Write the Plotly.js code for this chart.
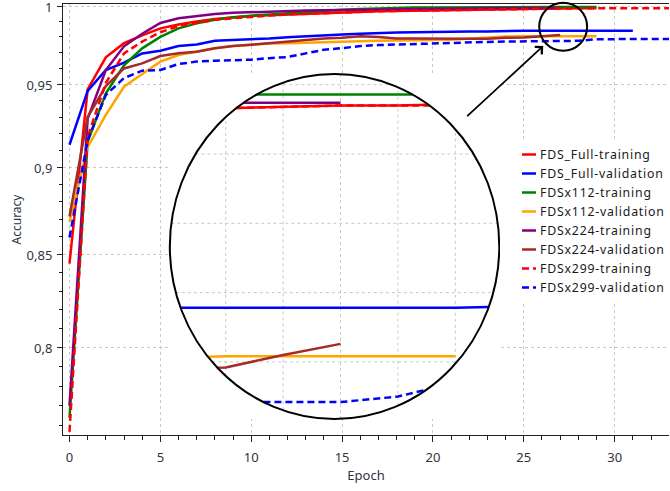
<!DOCTYPE html>
<html><head><meta charset="utf-8">
<script src="https://cdn.plot.ly/plotly-3.0.1.min.js"></script>
<style>html,body{margin:0;padding:0;background:#fff}
.legendtext{letter-spacing:0.8px}</style>
</head><body><div id="chart" style="width:670px;height:491px"></div>
<script>
// ---------- data ----------
const seriesNames = ['FDS_Full-training','FDS_Full-validation','FDSx112-training','FDSx112-validation',
                     'FDSx224-training','FDSx224-validation','FDSx299-training','FDSx299-validation'];
const fullTrain = [0.845,0.947,0.967,0.976,0.981,0.9855,0.988,0.990,0.9915,0.9925,0.9935,0.994,0.9945,0.995,0.9955,0.996,0.9963,0.9966,0.9968,0.997,0.9972,0.9975,0.9977,0.998,0.9982,0.9983,0.9984,0.9985,0.9985,0.9986];
const fullVal = [0.9133,0.946,0.959,0.9636,0.9695,0.9712,0.9742,0.9752,0.9776,0.978,0.9785,0.979,0.9798,0.9805,0.981,0.9815,0.982,0.9825,0.9828,0.983,0.983,0.9832,0.9834,0.9835,0.9839,0.9839,0.9839,0.9839,0.9839,0.9839,0.984,0.984];
const x112Train = [0.764,0.915,0.9445,0.962,0.9727,0.980,0.9855,0.9887,0.991,0.9926,0.9937,0.9945,0.9955,0.9962,0.9968,0.9975,0.998,0.9984,0.9987,0.999,0.9991,0.9992,0.9993,0.9993,0.9993,0.9993,0.9993,0.9993,0.9993,0.9993];
const x112Val = [0.8685,0.912,0.9313,0.9486,0.9565,0.9643,0.9685,0.9706,0.9727,0.9742,0.975,0.9758,0.976,0.9762,0.9765,0.977,0.9772,0.9775,0.9778,0.978,0.978,0.9782,0.9788,0.9795,0.9803,0.9804,0.9804,0.9804,0.9804,0.9804];
const x224Train = [0.770,0.929,0.959,0.974,0.982,0.989,0.992,0.9935,0.9948,0.9956,0.996,0.9965,0.9968,0.997,0.9972,0.9974,0.9976,0.9978,0.998,0.9981,0.9982,0.9983,0.9984,0.9985,0.9986,0.9987,0.9987,0.9987];
const x224Val = [0.8714,0.930,0.949,0.960,0.9632,0.9678,0.9696,0.9706,0.9727,0.9742,0.975,0.976,0.977,0.978,0.979,0.9795,0.9805,0.980,0.979,0.979,0.9788,0.9788,0.9788,0.9789,0.9795,0.9796,0.9805,0.9813];
const x299Train = [0.757,0.918,0.951,0.9695,0.977,0.983,0.987,0.989,0.991,0.992,0.993,0.9938,0.9945,0.995,0.9955,0.996,0.9963,0.9966,0.9968,0.997,0.9972,0.9975,0.9977,0.998,0.9982,0.9983,0.9984,0.9985,0.9985,0.9985,0.9985,0.9985,0.9985,0.9985];
const x299Val = [0.8596,0.916,0.9435,0.954,0.9586,0.959,0.9628,0.9643,0.9649,0.9653,0.9655,0.9665,0.9672,0.9695,0.9718,0.9728,0.9742,0.9748,0.9752,0.9756,0.976,0.9763,0.9766,0.9768,0.977,0.9771,0.9771,0.9771,0.9775,0.9785,0.9787,0.9787,0.9787,0.9787];
const yTickVals = [0.8,0.85,0.9,0.95,1];
const yTickText = ['0,8','0,85','0,9','0,95','1'];
const yMinorVals = [0.76,0.77,0.78,0.79,0.81,0.82,0.83,0.84,0.86,0.87,0.88,0.89,0.91,0.92,0.93,0.94,0.96,0.97,0.98,0.99];
const insetXGrid = [24,25,26,27,28,29,30];
const insetYGrid = [0.975,0.98,0.985,0.99,0.995,1.0];

// ---------- styles ----------
const allSeries = [fullTrain, fullVal, x112Train, x112Val, x224Train, x224Val, x299Train, x299Val];
const colors = ['#ff0000','#0000ff','#008000','#ffa500','#800080','#a52a2a','#ff0000','#0000ff'];
const dashes = ['solid','solid','solid','solid','solid','solid','7px,4px','7px,4px'];
const FONT = 'Noto Sans, Open Sans, sans-serif';

// ---------- geometry (pixels) ----------
const W = 670, H = 491, M = {l: 63, r: 0, t: 4, b: 56};
const PW = W - M.l - M.r, PH = H - M.t - M.b;
const px2paperX = x => (x - M.l) / PW;
const px2paperY = y => (H - M.b - y) / PH;
// inset (magnifier) ellipse box
const inset = {x0: 170, x1: 500, y0: 74, y1: 419};
const insetEpochAt = 341, insetEpochVal = 27, insetPxPerEpoch = 57.5;
const insetValTopPx = 84.7, insetPxPerUnit = 13860; // value 1.0 at 84.7 px
const ix0 = insetEpochVal - (insetEpochAt - inset.x0) / insetPxPerEpoch;
const ix1 = insetEpochVal + (inset.x1 - insetEpochAt) / insetPxPerEpoch;
const iy1 = 1 + (insetValTopPx - inset.y0) / insetPxPerUnit;
const iy0 = 1 - (inset.y1 - insetValTopPx) / insetPxPerUnit;

// clip a polyline (data coords of inset axes) to the inscribed ellipse
function clipToEllipse(xs, ys) {
  const nu = x => 2 * (x - ix0) / (ix1 - ix0) - 1;
  const nw = y => 2 * (y - iy0) / (iy1 - iy0) - 1;
  const du = u => ix0 + (u + 1) / 2 * (ix1 - ix0);
  const dw = w => iy0 + (w + 1) / 2 * (iy1 - iy0);
  const ox = [], oy = [];
  let last = null;
  for (let i = 0; i < xs.length - 1; i++) {
    const u0 = nu(xs[i]), w0 = nw(ys[i]), u1 = nu(xs[i+1]), w1 = nw(ys[i+1]);
    const dx = u1 - u0, dy = w1 - w0;
    const a = dx*dx + dy*dy, b = 2*(u0*dx + w0*dy), c = u0*u0 + w0*w0 - 1;
    const disc = b*b - 4*a*c;
    if (disc <= 0 || a === 0) { last = null; continue; }
    const t1 = (-b - Math.sqrt(disc)) / (2*a), t2 = (-b + Math.sqrt(disc)) / (2*a);
    const ta = Math.max(0, t1), tb = Math.min(1, t2);
    if (ta >= tb) { last = null; continue; }
    const pa = [du(u0 + ta*dx), dw(w0 + ta*dy)], pb = [du(u0 + tb*dx), dw(w0 + tb*dy)];
    if (last === null || ta > 0) { if (ox.length) { ox.push(null); oy.push(null); } ox.push(pa[0]); oy.push(pa[1]); }
    ox.push(pb[0]); oy.push(pb[1]);
    last = tb < 1 ? null : pb;
  }
  return {x: ox, y: oy};
}

const traces = [];
allSeries.forEach((vals, k) => {
  traces.push({
    type: 'scatter', mode: 'lines', name: seriesNames[k],
    x: vals.map((_, i) => i), y: vals,
    line: {color: colors[k], width: 2.5, dash: dashes[k]},
    hoverinfo: 'skip'
  });
});
allSeries.forEach((vals, k) => {
  const c = clipToEllipse(vals.map((_, i) => i), vals);
  traces.push({
    type: 'scatter', mode: 'lines', xaxis: 'x2', yaxis: 'y2', showlegend: false,
    x: c.x, y: c.y, line: {color: colors[k], width: 2.5, dash: dashes[k]},
    hoverinfo: 'skip', connectgaps: false
  });
});

// inset background + grid chords
const shapes = [{
  type: 'circle', xref: 'x2', yref: 'y2', layer: 'below',
  x0: ix0, x1: ix1, y0: iy0, y1: iy1, fillcolor: '#ffffff', line: {width: 0}
}];
const gridLine = {color: '#c8c8c8', width: 1, dash: 'dot'};
insetXGrid.forEach(e => {
  const u = 2 * (e - ix0) / (ix1 - ix0) - 1;
  if (Math.abs(u) >= 1) return;
  const h = Math.sqrt(1 - u*u);
  shapes.push({type: 'line', xref: 'x2', yref: 'y2', layer: 'below', x0: e, x1: e,
    y0: iy0 + (1 - h) / 2 * (iy1 - iy0), y1: iy0 + (1 + h) / 2 * (iy1 - iy0), line: gridLine});
});
insetYGrid.forEach(v => {
  const w = 2 * (v - iy0) / (iy1 - iy0) - 1;
  if (Math.abs(w) >= 1) return;
  const h = Math.sqrt(1 - w*w);
  shapes.push({type: 'line', xref: 'x2', yref: 'y2', layer: 'below', y0: v, y1: v,
    x0: ix0 + (1 - h) / 2 * (ix1 - ix0), x1: ix0 + (1 + h) / 2 * (ix1 - ix0), line: gridLine});
});
// inset outline
shapes.push({type: 'circle', xref: 'paper', yref: 'paper', layer: 'above',
  x0: px2paperX(inset.x0), x1: px2paperX(inset.x1), y0: px2paperY(inset.y1), y1: px2paperY(inset.y0),
  line: {color: '#000', width: 2}});
// small magnifier circle
shapes.push({type: 'circle', xref: 'paper', yref: 'paper', layer: 'above',
  x0: px2paperX(540), x1: px2paperX(588), y0: px2paperY(50.7), y1: px2paperY(2.7),
  line: {color: '#000', width: 2}});

const layout = {
  width: W, height: H, margin: M,
  paper_bgcolor: '#fff', plot_bgcolor: '#fff',
  font: {family: FONT, size: 13, color: '#2e3440'},
  showlegend: true,
  legend: {x: px2paperX(501), xanchor: 'left', y: px2paperY(140), yanchor: 'top',
    font: {family: FONT, size: 12.3, color: '#1a1a1a'}, bgcolor: 'rgba(255,255,255,1)',
    borderwidth: 0, tracegroupgap: 0},
  xaxis: {
    domain: [0, 1], range: [-0.357, 32.99], anchor: 'y',
    showline: true, linecolor: '#222', linewidth: 1, mirror: true,
    ticks: 'outside', ticklen: 6, tickcolor: '#222', tickwidth: 1,
    tickmode: 'linear', tick0: 0, dtick: 5,
    minor: {dtick: 1, tick0: 0, ticks: 'outside', ticklen: 4, tickcolor: '#222', showgrid: false},
    showgrid: true, gridcolor: '#c8c8c8', griddash: 'dot', gridwidth: 1,
    zeroline: false, ticklabelstandoff: 4,
    tickfont: {family: FONT, size: 13, color: '#2e3440'},
    title: {text: 'Epoch', font: {family: FONT, size: 13, color: '#2e3440'}, standoff: 4}
  },
  yaxis: {
    type: 'log', range: [Math.log10(0.75547), Math.log10(1.001308)], anchor: 'x',
    showline: true, linecolor: '#222', linewidth: 1,
    ticks: 'outside', ticklen: 5, tickcolor: '#222', tickwidth: 1,
    tickmode: 'array', tickvals: yTickVals, ticktext: yTickText,
    minor: {tickmode: 'array', tickvals: yMinorVals, ticks: 'outside', ticklen: 3, tickcolor: '#222', showgrid: false},
    showgrid: true, gridcolor: '#c8c8c8', griddash: 'dot', gridwidth: 1,
    zeroline: false, ticklabelstandoff: 2, ticklabeloverflow: 'allow', ticklabelshift: 1,
    tickfont: {family: FONT, size: 13, color: '#2e3440'},
    title: {text: 'Accuracy', font: {family: FONT, size: 12, color: '#2e3440'}, standoff: 2}
  },
  xaxis2: {domain: [px2paperX(inset.x0), px2paperX(inset.x1)], range: [ix0, ix1], anchor: 'y2', visible: false, fixedrange: true},
  yaxis2: {domain: [px2paperY(inset.y1), px2paperY(inset.y0)], range: [iy0, iy1], anchor: 'x2', visible: false, fixedrange: true},
  shapes: shapes,
  annotations: [{
    xref: 'paper', yref: 'paper', x: px2paperX(544), y: px2paperY(46),
    axref: 'pixel', ayref: 'pixel', ax: -77.5, ay: 71.5,
    text: '', showarrow: true, arrowhead: 4, arrowsize: 1.1, arrowwidth: 1.8, arrowcolor: '#000'
  }]
};

function shortenLegendSamples() {
  document.querySelectorAll('#chart .legend .legendlines path').forEach(p => p.setAttribute('d', 'M22,0h14'));
}
Plotly.newPlot('chart', traces, layout, {displayModeBar: false, staticPlot: true}).then(gd => {
  shortenLegendSamples();
  gd.on('plotly_afterplot', shortenLegendSamples);
});
</script>
</body></html>
